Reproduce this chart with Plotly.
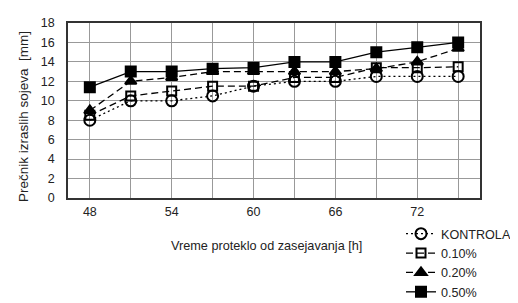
import plotly.graph_objects as go

hours = [48, 51, 54, 57, 60, 63, 66, 69, 72, 75]
kontrola = [8, 10, 10, 10.5, 11.5, 12, 12, 12.5, 12.5, 12.5]
p010 = [8.5, 10.5, 11, 11.5, 11.5, 12.4, 12.4, 13.4, 13.4, 13.5]
p020 = [9, 12, 12.4, 13, 13, 13, 13, 13.3, 14, 15.4]
p050 = [11.4, 13, 13, 13.3, 13.4, 14, 14, 15, 15.5, 16]

x_tick_vals = [48, 54, 60, 66, 72]
y_tick_vals = list(range(0, 19, 2))

series = [
    ("KONTROLA", kontrola, "2px,3px", "circle-open", 11),
    ("0.10%", p010, "7px,4px", "square-open", 9),
    ("0.20%", p020, "7px,4px", "triangle-up", 10),
    ("0.50%", p050, "solid", "square", 10),
]

fig = go.Figure()
for name, vals, dash, sym, size in series:
    fig.add_trace(go.Scatter(
        x=hours, y=vals, name=name, mode="lines+markers",
        line=dict(color="black", width=1.3, dash=dash),
        marker=dict(symbol=sym, size=size, color="black",
                    line=dict(color="black", width=2)),
    ))

fig.update_layout(
    width=518, height=303,
    margin=dict(l=60, r=46, t=15, b=113, autoexpand=False),
    paper_bgcolor="white", plot_bgcolor="white",
    font=dict(family="Liberation Sans, Arial", size=13, color="#222"),
    showlegend=True,
    legend=dict(
        xref="container", yref="container",
        x=393 / 518, y=1 - 211 / 303, xanchor="left", yanchor="top",
        font=dict(size=12.6, color="#222"),
        bgcolor="rgba(0,0,0,0)", itemwidth=30,
        tracegroupgap=0,
    ),
    annotations=[
        dict(
            text="Vreme proteklo od zasejavanja [h]",
            xref="paper", yref="paper", x=(258 - 60) / 412, y=(190 - 238) / 175,
            xanchor="center", yanchor="middle", showarrow=False,
            font=dict(size=12.7, color="#222"),
        ),
        dict(
            text="Prečnik izraslih sojeva\u00a0\u00a0[mm]",
            xref="paper", yref="paper", x=(15 - 60) / 412, y=(190 - 109) / 175,
            xanchor="center", yanchor="middle", showarrow=False, textangle=-90,
            font=dict(size=13.5, color="#222"),
        ),
    ],
)

fig.update_xaxes(
    range=[46.4, 76.6],
    tickvals=x_tick_vals,
    ticks="", ticklabelstandoff=1,
    tickfont=dict(size=12.5),
    showgrid=True, gridcolor="#999", gridwidth=1,
    minor=dict(tickvals=hours, showgrid=True, gridcolor="#999", gridwidth=1),
    showline=True, linecolor="#333", linewidth=1.5, mirror=True,
    zeroline=False,
)
fig.update_yaxes(
    range=[0, 18],
    tickvals=y_tick_vals,
    ticks="", ticklabelstandoff=9,
    tickfont=dict(size=12.5),
    showgrid=True, gridcolor="#999", gridwidth=1,
    showline=True, linecolor="#333", linewidth=1.5, mirror=True,
    zeroline=False,
)

fig.write_html("out.html")
